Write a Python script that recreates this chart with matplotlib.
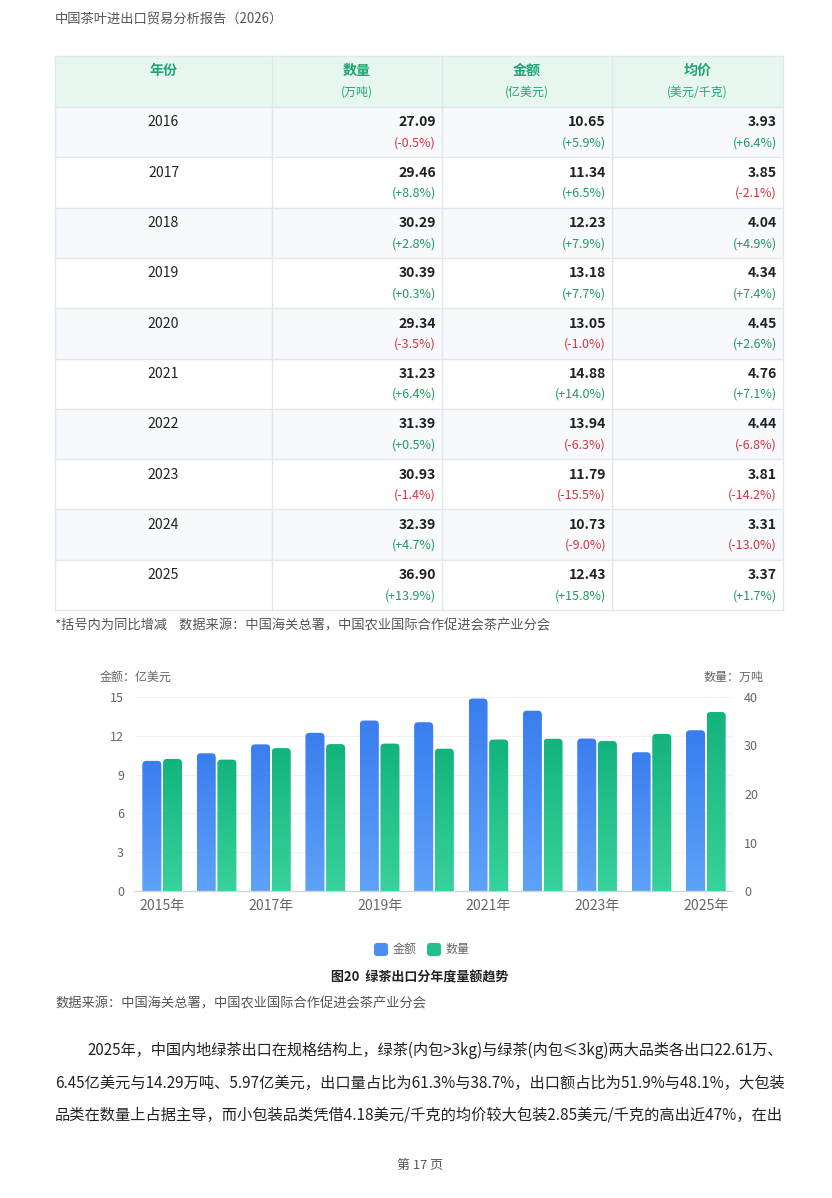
import matplotlib
matplotlib.use("Agg")
import matplotlib.pyplot as plt
import numpy as np
from matplotlib.patches import Rectangle, FancyBboxPatch
from matplotlib.colors import LinearSegmentedColormap

plt.rcParams['font.family'] = ['Noto Sans CJK SC', 'DejaVu Sans']

# ---------------- data ----------------
table_years = ["2016", "2017", "2018", "2019", "2020", "2021", "2022", "2023", "2024", "2025"]
qty_vals = ["27.09", "29.46", "30.29", "30.39", "29.34", "31.23", "31.39", "30.93", "32.39", "36.90"]
qty_chg = ["-0.5%", "+8.8%", "+2.8%", "+0.3%", "-3.5%", "+6.4%", "+0.5%", "-1.4%", "+4.7%", "+13.9%"]
amt_vals = ["10.65", "11.34", "12.23", "13.18", "13.05", "14.88", "13.94", "11.79", "10.73", "12.43"]
amt_chg = ["+5.9%", "+6.5%", "+7.9%", "+7.7%", "-1.0%", "+14.0%", "-6.3%", "-15.5%", "-9.0%", "+15.8%"]
price_vals = ["3.93", "3.85", "4.04", "4.34", "4.45", "4.76", "4.44", "3.81", "3.31", "3.37"]
price_chg = ["+6.4%", "-2.1%", "+4.9%", "+7.4%", "+2.6%", "+7.1%", "-6.8%", "-14.2%", "-13.0%", "+1.7%"]

header_titles = ["年份", "数量", "金额", "均价"]
header_units = ["", "(万吨)", "(亿美元)", "(美元/千克)"]

chart_years = ["2015年", "2016年", "2017年", "2018年", "2019年", "2020年",
               "2021年", "2022年", "2023年", "2024年", "2025年"]
chart_amount = [10.06, 10.65, 11.34, 12.23, 13.18, 13.05, 14.88, 13.94, 11.79, 10.73, 12.43]
chart_qty = [27.23, 27.09, 29.46, 30.29, 30.39, 29.34, 31.23, 31.39, 30.93, 32.39, 36.90]

para_lines = [
    "2025年，中国内地绿茶出口在规格结构上，绿茶(内包>3kg)与绿茶(内包≤3kg)两大品类各出口22.61万、",
    "6.45亿美元与14.29万吨、5.97亿美元，出口量占比为61.3%与38.7%，出口额占比为51.9%与48.1%，大包装",
    "品类在数量上占据主导，而小包装品类凭借4.18美元/千克的均价较大包装2.85美元/千克的高出近47%，在出",
]

# ---------------- figure ----------------
W, H = 832, 1198
fig = plt.figure(figsize=(W / 100, H / 100), dpi=100)
page = fig.add_axes([0, 0, 1, 1])
page.set_xlim(0, W)
page.set_ylim(H, 0)
page.axis('off')

def pt(px):
    return px / (100 / 72)

GREY = "#555555"
DARK = "#222222"
POS = "#1f9a5e"
NEG = "#d6333b"
HEAD_GREEN = "#1ea672"

page.text(55, 20, "中国茶叶进出口贸易分析报告（2026）", fontsize=pt(13.3), color=GREY,
          va='center', ha='left')

# ---------------- table ----------------
col_x = [55, 272, 442, 612, 783]
top = 56
head_bottom = 107
row_h = 50.3
n_rows = len(table_years)
table_bottom = head_bottom + row_h * n_rows

page.add_patch(Rectangle((col_x[0], top), col_x[-1] - col_x[0], head_bottom - top,
                         facecolor="#e7f6ef", edgecolor='none', zorder=0))
for i in range(n_rows):
    y0 = head_bottom + i * row_h
    fc = "#f7f9fc" if i % 2 == 0 else "#ffffff"
    page.add_patch(Rectangle((col_x[0], y0), col_x[-1] - col_x[0], row_h,
                             facecolor=fc, edgecolor='none', zorder=0))

line_c = "#e2e7ec"
for i in range(n_rows + 2):
    y = top if i == 0 else head_bottom + (i - 1) * row_h
    page.plot([col_x[0], col_x[-1]], [y, y], color=line_c, lw=1, zorder=1)
for x in col_x:
    page.plot([x, x], [top, table_bottom], color=line_c, lw=1, zorder=1)

for j in range(4):
    cx = (col_x[j] + col_x[j + 1]) / 2
    page.text(cx, 71, header_titles[j], fontsize=pt(14), fontweight='bold',
              color=HEAD_GREEN, ha='center', va='center')
    if header_units[j]:
        page.text(cx, 92, header_units[j], fontsize=pt(12), color=HEAD_GREEN,
                  ha='center', va='center')

cols = [(qty_vals, qty_chg), (amt_vals, amt_chg), (price_vals, price_chg)]
for i in range(n_rows):
    y0 = head_bottom + i * row_h
    page.text((col_x[0] + col_x[1]) / 2, y0 + 15.5, table_years[i], fontsize=pt(14),
              color=DARK, ha='center', va='center')
    for j, (vals, chg) in enumerate(cols):
        xr = col_x[j + 2] - 6
        page.text(xr, y0 + 15.5, vals[i], fontsize=pt(14), fontweight='bold',
                  color=DARK, ha='right', va='center')
        c = NEG if chg[i].startswith('-') else POS
        page.text(xr, y0 + 36, "(" + chg[i] + ")", fontsize=pt(12.5),
                  color=c, ha='right', va='center')

page.text(55, 626, "*括号内为同比增减    数据来源：中国海关总署，中国农业国际合作促进会茶产业分会",
          fontsize=pt(13.2), color=GREY, ha='left', va='center')

# ---------------- chart ----------------
ax_l, ax_r, ax_t, ax_b = 135, 733, 697, 891
ax = fig.add_axes([ax_l / W, 1 - ax_b / H, (ax_r - ax_l) / W, (ax_b - ax_t) / H])
ax2 = ax.twinx()
ax.set_zorder(2)
ax2.set_zorder(3)
ax.patch.set_visible(False)
ax2.patch.set_visible(False)

n = len(chart_years)
x = np.arange(n)
bw = 0.35
off = 0.19
ax.set_xlim(-0.5, n - 0.5)
ax.set_ylim(0, 15)
ax2.set_ylim(0, 40)

ax.set_yticks([0, 3, 6, 9, 12, 15])
ax2.set_yticks([0, 10, 20, 30, 40])
for yv in [3, 6, 9, 12, 15]:
    ax.axhline(yv, color="#f0f1f3", lw=0.8, zorder=0)

blue_cmap = LinearSegmentedColormap.from_list("b", ["#5ea2f8", "#3a7def"])
green_cmap = LinearSegmentedColormap.from_list("g", ["#38d29c", "#13b37d"])
grad = np.linspace(0, 1, 256).reshape(-1, 1)

px_per_x = (ax_r - ax_l) / n
px_h = ax_b - ax_t

def grad_bars(axis, xs, heights, ymax, cmap):
    bars = axis.bar(xs, heights, width=bw, color='none', edgecolor='none')
    rx = 4 / px_per_x
    ry = 4 * ymax / px_h
    for b in bars:
        bx, bh = b.get_x(), b.get_height()
        clip = FancyBboxPatch((bx, -ry), bw, bh + ry,
                              boxstyle=f"round,pad=0,rounding_size={rx}",
                              mutation_aspect=ry / rx,
                              facecolor='none', edgecolor='none')
        axis.add_patch(clip)
        im = axis.imshow(grad, extent=[bx, bx + bw, 0, bh], origin='lower',
                         cmap=cmap, aspect='auto', zorder=2, interpolation='bilinear')
        im.set_clip_path(clip)
    return bars

grad_bars(ax, x - off, chart_amount, 15, blue_cmap)
grad_bars(ax2, x + off, chart_qty, 40, green_cmap)
ax.set_xlim(-0.5, n - 0.5)
ax.set_ylim(0, 15)
ax2.set_xlim(-0.5, n - 0.5)
ax2.set_ylim(0, 40)

for a in (ax, ax2):
    for s in a.spines.values():
        s.set_visible(False)
ax.spines['bottom'].set_visible(True)
ax.spines['bottom'].set_color("#d0d4d9")
ax.spines['bottom'].set_linewidth(1)

ax.set_xticks(x[::2])
ax.set_xticklabels(chart_years[::2])
ax.tick_params(axis='x', length=0, pad=6, labelsize=pt(14), labelcolor="#666666")
ax.tick_params(axis='y', length=0, pad=8, labelsize=pt(12.5), labelcolor="#666666")
ax2.tick_params(axis='y', length=0, pad=8, labelsize=pt(12.5), labelcolor="#666666")

page.text(100, 677, "金额：亿美元", fontsize=pt(12), color="#666666", ha='left', va='center')
page.text(764, 677, "数量：万吨", fontsize=pt(12), color="#666666", ha='right', va='center')

# legend
page.add_patch(FancyBboxPatch((374, 943), 14, 13, boxstyle="round,pad=0,rounding_size=3",
                              facecolor="#4a8df3", edgecolor='none'))
page.text(393, 949, "金额", fontsize=pt(12), color="#666666", ha='left', va='center')
page.add_patch(FancyBboxPatch((427, 943), 14, 13, boxstyle="round,pad=0,rounding_size=3",
                              facecolor="#22c08a", edgecolor='none'))
page.text(446, 949, "数量", fontsize=pt(12), color="#666666", ha='left', va='center')

page.text(420, 978, "图20  绿茶出口分年度量额趋势", fontsize=pt(13), fontweight='bold',
          color=DARK, ha='center', va='center')
page.text(55, 1004, "数据来源：中国海关总署，中国农业国际合作促进会茶产业分会",
          fontsize=pt(13.2), color=GREY, ha='left', va='center')

# paragraph (each line fitted to the text block width)
para_y = [1050, 1083, 1115]
para_texts = []
for k, (ln, yy) in enumerate(zip(para_lines, para_y)):
    t = page.text(87 if k == 0 else 55, yy, ln, fontsize=pt(15.5), color=DARK,
                  ha='left', va='center')
    para_texts.append((t, 87 if k == 0 else 55))
fig.canvas.draw()
renderer = fig.canvas.get_renderer()
for t, x0 in para_texts:
    bb = t.get_window_extent(renderer)
    target = 783 - x0
    t.set_fontsize(t.get_fontsize() * target / bb.width)

page.text(420, 1165, "第 17 页", fontsize=pt(13), color=GREY, ha='center', va='center')

fig.savefig("out.png", dpi=100)
